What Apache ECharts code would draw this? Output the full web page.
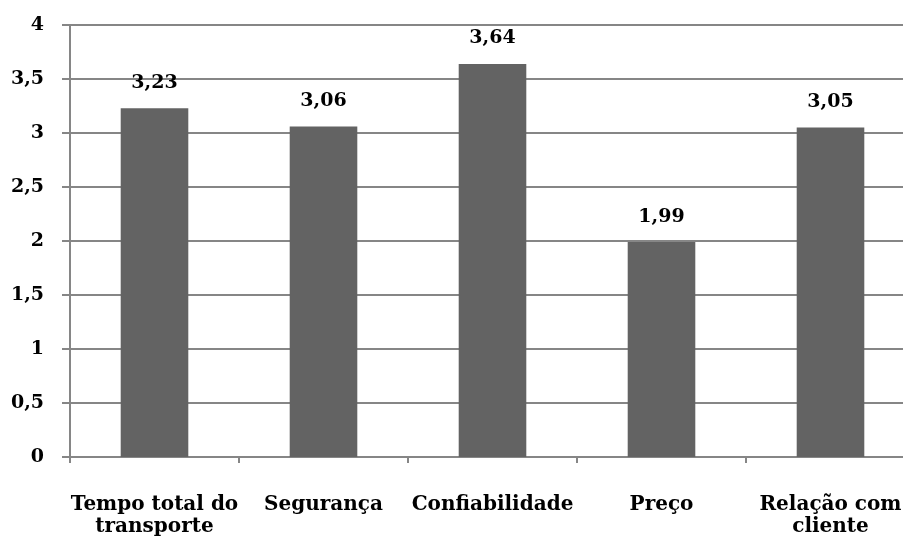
<!DOCTYPE html>
<html><head><meta charset="utf-8">
<script src="https://cdn.jsdelivr.net/npm/echarts@6/dist/echarts.min.js"></script>
<style>html,body{margin:0;padding:0;background:#fff}#c{width:903px;height:539px}</style>
</head><body><div id="c"></div>
<script>
const categories = ['Tempo total do\ntransporte', 'Segurança', 'Confiabilidade', 'Preço', 'Relação com\ncliente'];
const values = [3.23, 3.06, 3.64, 1.99, 3.05];
const yTicks = [0, 0.5, 1, 1.5, 2, 2.5, 3, 3.5, 4];
const fmt = v => String(v).replace('.', ',');
const chart = echarts.init(document.getElementById('c'));
const font = 'DejaVu Serif';
chart.setOption({
  animation: false,
  grid: { left: 70, width: 845, top: 25, height: 432, outerBoundsMode: 'none', containLabel: false },
  xAxis: {
    type: 'category', data: categories,
    axisLine: { lineStyle: { color: '#868686', width: 2 } },
    axisTick: { show: true, length: 6, lineStyle: { color: '#868686', width: 2 } },
    axisLabel: { color: '#000', fontFamily: font, fontWeight: 'bold', fontSize: 20, margin: 37, lineHeight: 22, interval: 0 }
  },
  yAxis: {
    type: 'value', min: 0, max: 4, interval: 0.5,
    axisLine: { show: true, lineStyle: { color: '#868686', width: 2 } },
    axisTick: { show: true, length: 8, lineStyle: { color: '#868686', width: 2 } },
    splitLine: { show: true, lineStyle: { color: '#868686', width: 2 } },
    axisLabel: { color: '#000', fontFamily: font, fontWeight: 'bold', fontSize: 19, margin: 26, formatter: v => fmt(v) }
  },
  series: [{
    type: 'bar', data: values, barWidth: '40%',
    itemStyle: { color: '#636363' },
    label: { show: true, position: 'top', distance: 16, color: '#000', fontFamily: font, fontWeight: 'bold', fontSize: 19, formatter: p => fmt(p.value.toFixed(2)) }
  }]
});
</script></body></html>
